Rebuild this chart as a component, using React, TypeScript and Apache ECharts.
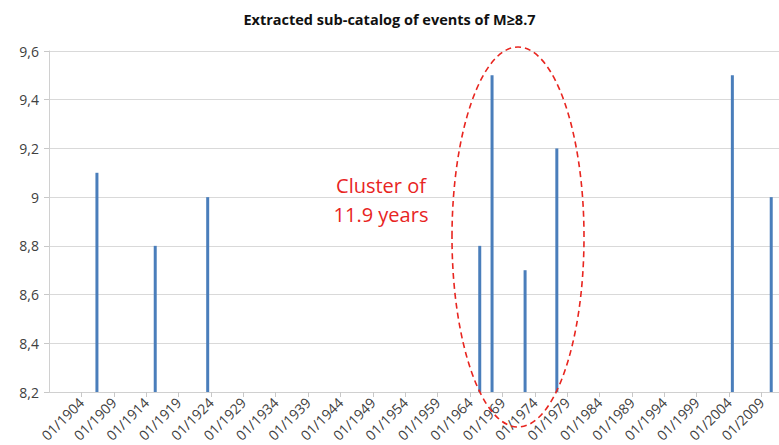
import React, { useEffect, useRef } from "react";
import * as echarts from "echarts";

// Event dates (decimal years) and magnitudes
const eventYears = [1906.4, 1915.4, 1923.5, 1965.5, 1967.4, 1972.5, 1977.4, 2004.5, 2010.5];
const magnitudes = [9.1, 8.8, 9.0, 8.8, 9.5, 8.7, 9.2, 9.5, 9.0];
const titleText = "Extracted sub-catalog of events of M≥8.7";
const clusterLabel = "Cluster of\n11.9 years";

const xMin = 1899;
const xMax = 2011.7;
const yMin = 8.2;
const yMax = 9.6;

export default function App() {
  const ref = useRef<HTMLDivElement>(null);
  useEffect(() => {
    if (!ref.current) return;
    const chart = echarts.init(ref.current, null, { renderer: "svg" });
    const data = eventYears.map((y, i) => [y, magnitudes[i]]);
    chart.setOption({
      animation: false,
      backgroundColor: "#ffffff",
      title: {
        text: titleText,
        left: "center",
        top: 7,
        textStyle: {
          fontFamily: "Open Sans",
          fontWeight: "bold",
          fontSize: 14.5,
          color: "#111",
        },
      },
      grid: { left: 49, right: 0, top: 51, bottom: 53 },
      xAxis: {
        type: "value",
        min: xMin,
        max: xMax,
        interval: 5,
        splitLine: { show: false },
        axisLine: { show: true, lineStyle: { color: "#d0d0d0" } },
        axisTick: { show: true, length: 5, lineStyle: { color: "#c8c8c8" } },
        axisLabel: {
          rotate: 45,
          margin: 8,
          showMinLabel: false,
          showMaxLabel: false,
          fontFamily: "Open Sans",
          fontSize: 14,
          color: "#404040",
          formatter: (v: number) => (Math.abs(v - Math.round(v)) < 1e-6 && v > xMin ? "01/" + Math.round(v) : ""),
        },
      },
      yAxis: {
        type: "value",
        min: yMin,
        max: yMax,
        interval: 0.2,
        axisLine: { show: true, lineStyle: { color: "#d0d0d0" } },
        axisTick: { show: true, length: 5, lineStyle: { color: "#c8c8c8" } },
        splitLine: { show: true, lineStyle: { color: "#d9d9d9" } },
        axisLabel: {
          margin: 10,
          fontFamily: "Open Sans",
          fontSize: 14,
          color: "#404040",
          formatter: (v: number) => {
            const r = Math.round(v * 10) / 10;
            return Number.isInteger(r) ? String(r) : r.toFixed(1).replace(".", ",");
          },
        },
      },
      series: [
        {
          type: "bar",
          data,
          barWidth: 3,
          clip: true,
          itemStyle: { color: "#4a7ebb" },
        },
      ],
      graphic: [
        {
          type: "ellipse",
          z: 100,
          shape: { cx: 518, cy: 237, rx: 66, ry: 190 },
          style: { fill: "none", stroke: "#e8251f", lineWidth: 1.6, lineDash: [6, 4] },
        },
        {
          type: "text",
          z: 100,
          x: 381,
          y: 171,
          style: {
            text: clusterLabel,
            fill: "#e8251f",
            font: '20px "Open Sans"',
            align: "center",
            verticalAlign: "top",
            lineHeight: 29,
          },
        },
      ],
    });
    return () => chart.dispose();
  }, []);
  return (
    <div
      ref={ref}
      style={{ position: "fixed", left: 0, top: 0, width: 779, height: 445 }}
    />
  );
}
